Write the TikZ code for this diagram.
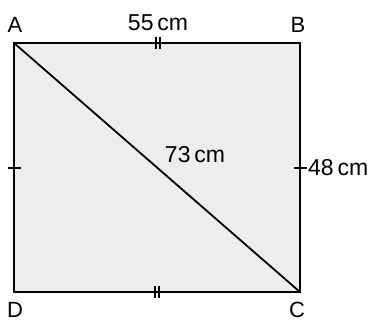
\documentclass[tikz,border=0pt]{standalone}
\usepackage{fontspec}
\setmainfont{Liberation Sans}
\begin{document}
\begin{tikzpicture}[x=1pt,y=-1pt,
  edge/.style={line width=1.8pt},
  tick/.style={line width=1.4pt},
  lab/.style={font=\fontsize{22}{22}\selectfont, inner sep=0pt},
  meas/.style={font=\fontsize{23}{23}\selectfont, inner sep=0pt}]
\useasboundingbox (0,0) rectangle (374,322);
\coordinate (A) at (14,43);
\coordinate (B) at (300,43);
\coordinate (C) at (300,292);
\coordinate (D) at (14,292);
\fill[black!7] (A) rectangle (C);
\draw[edge] (A) -- (B) -- (C) -- (D) -- cycle;
\draw[edge] (A) -- (C);
% ticks
\draw[tick] (156,37) -- (156,49) (160,37) -- (160,49);
\draw[tick] (155,286) -- (155,298) (159,286) -- (159,298);
\draw[tick] (8,168) -- (21,168);
\draw[tick] (294,168) -- (307,168);
% labels
\node[lab] (la) at (15,25) {A};
\node[lab] (lb) at (298,25) {B};
\node[lab] (lc) at (297,310) {C};
\node[lab] (ld) at (15,310) {D};
\node[meas] (m55) at (158,23) {55\,cm};
\node[meas] (m73) at (195,155) {73\,cm};
\node[meas, anchor=west] (m48) at (308,168) {48\,cm};
\end{tikzpicture}
\end{document}
